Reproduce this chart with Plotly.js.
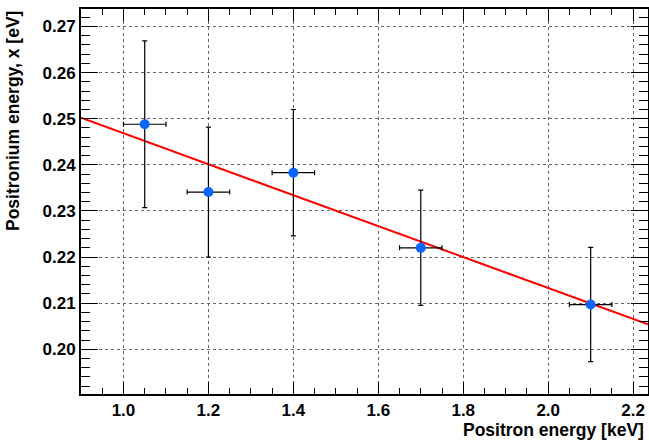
<!DOCTYPE html>
<html>
<head>
<meta charset="utf-8">
<script src="https://cdn.plot.ly/plotly-3.0.1.min.js"></script>
<style>
  html, body { margin: 0; padding: 0; background: #ffffff; }
  #chart { width: 649px; height: 444px; }
</style>
</head>
<body>
<div id="chart"></div>
<script>
// Measured positronium energies versus positron beam energy
const positronEnergy = [1.05, 1.2, 1.4, 1.7, 2.1];          // keV
const positroniumEnergy = [0.2488, 0.2341, 0.2383, 0.2220, 0.2097]; // eV
const energyErrX = [0.05, 0.05, 0.05, 0.05, 0.05];
const energyErrY = [0.0181, 0.0141, 0.0137, 0.0125, 0.0124];

// Linear fit drawn across the full axis range
const fitX = [0.9, 2.235];
const fitY = [0.2502, 0.2054];

const font = 'Liberation Sans, Arial, Helvetica, sans-serif';

const traces = [
  {
    x: fitX, y: fitY, mode: 'lines', type: 'scatter',
    line: { color: '#ff0000', width: 2 },
    hoverinfo: 'skip', showlegend: false
  },
  {
    x: positronEnergy, y: positroniumEnergy, mode: 'markers', type: 'scatter',
    marker: { color: '#0a64ff', size: 10, line: { width: 0 } },
    error_x: { type: 'data', array: energyErrX, visible: true, color: '#000000', thickness: 1.2, width: 2.5 },
    error_y: { type: 'data', array: energyErrY, visible: true, color: '#000000', thickness: 1.2, width: 2.5 },
    showlegend: false
  }
];

const layout = {
  width: 649, height: 444,
  margin: { l: 81, r: 1, t: 9, b: 50 },
  paper_bgcolor: '#ffffff', plot_bgcolor: '#ffffff',
  showlegend: false,
  font: { family: font, color: '#000000' },
  xaxis: {
    range: [0.9, 2.235],
    tickvals: [1.0, 1.2, 1.4, 1.6, 1.8, 2.0, 2.2],
    ticktext: ['1.0', '1.2', '1.4', '1.6', '1.8', '2.0', '2.2'],
    ticks: 'inside', ticklen: 12, tickwidth: 1, tickcolor: '#000000',
    minor: { dtick: 0.05, tick0: 0.9, ticks: 'inside', ticklen: 6, tickwidth: 1, tickcolor: '#000000', showgrid: false },
    showline: true, linewidth: 2, linecolor: '#000000', mirror: 'ticks',
    showgrid: true, gridcolor: '#666666', gridwidth: 1, griddash: 'dot',
    zeroline: false,
    tickfont: { family: font, size: 17, weight: 'bold', color: '#000000' }
  },
  yaxis: {
    range: [0.1903, 0.2738],
    tickvals: [0.20, 0.21, 0.22, 0.23, 0.24, 0.25, 0.26, 0.27],
    ticktext: ['0.20', '0.21', '0.22', '0.23', '0.24', '0.25', '0.26', '0.27'],
    ticks: 'inside', ticklen: 17, tickwidth: 1, tickcolor: '#000000',
    minor: { dtick: 0.002, tick0: 0.19, ticks: 'inside', ticklen: 9, tickwidth: 1, tickcolor: '#000000', showgrid: false },
    showline: true, linewidth: 2, linecolor: '#000000', mirror: 'ticks',
    showgrid: true, gridcolor: '#666666', gridwidth: 1, griddash: 'dot',
    zeroline: false,
    tickfont: { family: font, size: 17, weight: 'bold', color: '#000000' }
  },
  annotations: [
    {
      text: 'Positron energy [keV]', xref: 'paper', yref: 'paper',
      x: 1, y: 0, xanchor: 'right', yanchor: 'top', yshift: -24, xshift: -2,
      showarrow: false,
      font: { family: font, size: 17.5, weight: 'bold', color: '#000000' }
    },
    {
      text: 'Positronium energy, x [eV]', xref: 'paper', yref: 'paper',
      x: 0, y: 1, xanchor: 'right', yanchor: 'top', xshift: -56, textangle: -90,
      showarrow: false,
      font: { family: font, size: 17.5, weight: 'bold', color: '#000000' }
    }
  ]
};

Plotly.newPlot('chart', traces, layout, { staticPlot: true, displayModeBar: false });
</script>
</body>
</html>
